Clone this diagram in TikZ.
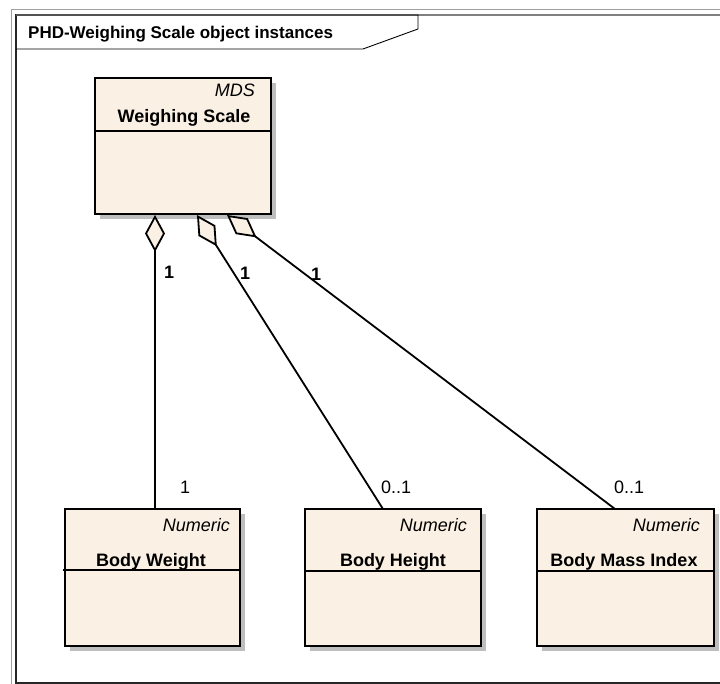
\documentclass[tikz,border=0pt]{standalone}
\usepackage{fontspec}
\setmainfont{Liberation Sans}
\usetikzlibrary{arrows.meta,shadows}
\definecolor{cream}{HTML}{FAF0E3}
\definecolor{shade}{HTML}{BEBEBE}
\begin{document}
\begin{tikzpicture}[x=1pt,y=-1pt,
  umlbox/.style={draw=black, line width=2pt, fill=cream, inner sep=0pt,
    drop shadow={shadow xshift=5pt, shadow yshift=-5pt, fill=shade, opacity=1}},
  divider/.style={draw=black, line width=1.3pt},
  stereo/.style={font=\fontsize{18}{21}\selectfont\itshape, anchor=base east, inner sep=0pt},
  cname/.style={font=\fontsize{18}{21}\selectfont\bfseries, anchor=base, inner sep=0pt},
  mult/.style={font=\fontsize{18}{21}\selectfont, anchor=base west, inner sep=0pt},
  multb/.style={font=\fontsize{18}{21}\selectfont\bfseries, anchor=base west, inner sep=0pt},
  aggr/.style={draw=black, line width=1.8pt, {Diamond[length=37pt,width=20pt,fill=cream]}-}
]
\useasboundingbox (0,0) rectangle (720,684);
\clip (0,0) rectangle (720,684);
\fill[white] (0,0) rectangle (720,684);

% frame
\draw[gray!75, line width=1pt] (11,10) rectangle (740,700);
\draw[black!85, line width=1.2pt] (16,15) rectangle (740,683);
\draw[gray, line width=1.2pt] (16,15) -- (740,15);
\draw[black, line width=0.9pt] (16,15) -- (418,15) -- (418,29) -- (363,49) -- (16,49);
\node[font=\fontsize{17}{20}\selectfont\bfseries, anchor=base west, inner sep=0pt] (title) at (28,39) {PHD-Weighing Scale object instances};

% boxes
\node[umlbox, minimum width=176pt, minimum height=136pt] (ws) at (183,146) {};
\draw[divider] (95,131) -- (271,131);
\node[stereo] (wsst) at (255,97) {MDS};
\node[cname] (wsname) at (184,123) {Weighing Scale};

\node[umlbox, minimum width=175pt, minimum height=137pt] (bw) at (152.5,577.5) {};
\draw[divider] (63,570) -- (239,570);
\node[stereo] (bwst) at (230,531) {Numeric};
\node[cname] (bwname) at (151,566) {Body Weight};

\node[umlbox, minimum width=176pt, minimum height=137pt] (bh) at (393,577.5) {};
\draw[divider] (305,571) -- (481,571);
\node[stereo] (bhst) at (467,531) {Numeric};
\node[cname] (bhname) at (393,566) {Body Height};

\node[umlbox, minimum width=177pt, minimum height=137pt] (bmi) at (625.5,577.5) {};
\draw[divider] (537,571) -- (714,571);
\node[stereo] (bmist) at (700,531) {Numeric};
\node[cname] (bminame) at (624,566) {Body Mass Index};

% connector endpoints
\coordinate (s1) at (155,215);
\coordinate (e1) at (155,509);
\coordinate (s2) at (197,215);
\coordinate (e2) at (383,509);
\coordinate (s3) at (227,215);
\coordinate (e3) at (615,509);

\draw[aggr] (s1) -- (e1);
\draw[aggr] (s2) -- (e2);
\draw[aggr] (s3) -- (e3);

% multiplicities
\node[multb] (m1a) at (164,279) {1};
\node[mult] (m1b) at (180,493) {1};
\node[multb] (m2a) at (240,280) {1};
\node[mult] (m2b) at (381,493) {0..1};
\node[multb] (m3a) at (311,281) {1};
\node[mult] (m3b) at (614,493) {0..1};
\end{tikzpicture}
\end{document}
